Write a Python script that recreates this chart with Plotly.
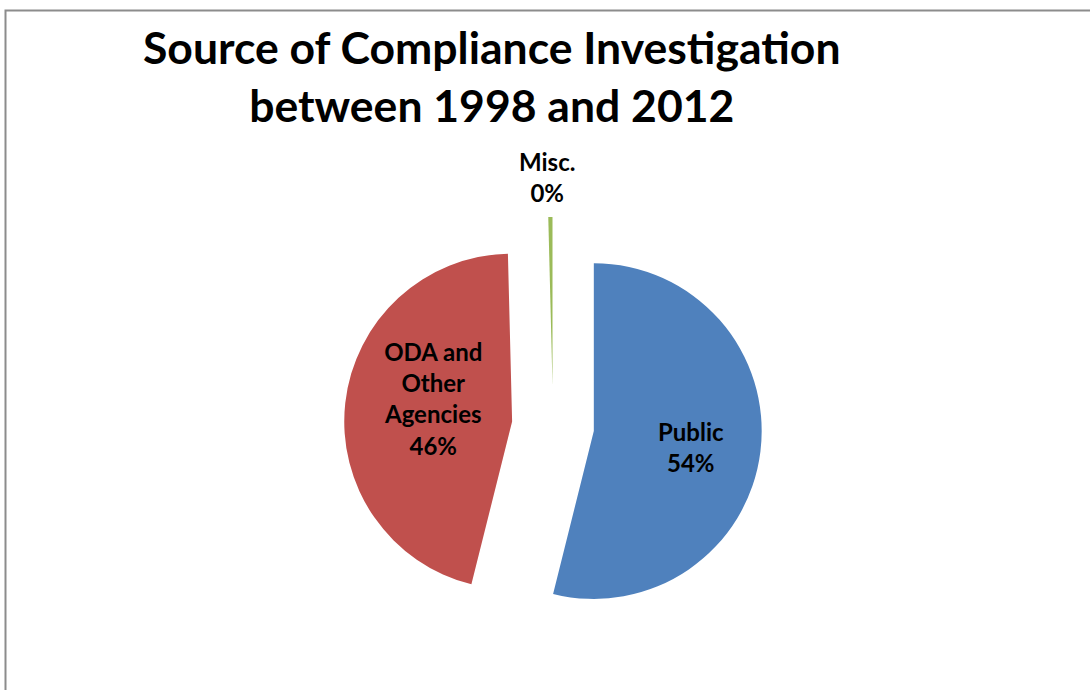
import plotly.graph_objects as go

# Sources of compliance investigations, 1998-2012 (share of cases, %)
sources = ["Public", "ODA and<br>Other<br>Agencies", "Misc."]
shares = [53.9, 45.7, 0.4]
colors = ["#4F81BD", "#C0504D", "#9BBB59"]

# where each slice's data label sits (paper pixels from top-left)
label_px = [(691, 447), (433, 398), (547, 177)]

W, H = 1090, 690
FONT = "Lato"

fig = go.Figure(
    go.Pie(
        labels=sources,
        values=shares,
        sort=False,
        direction="clockwise",
        rotation=0,
        pull=[0.245, 0.245, 0.245],
        marker=dict(colors=colors, line=dict(width=0)),
        textinfo="none",
        showlegend=False,
        hoverinfo="label+percent",
        domain=dict(x=[344 / W, 762 / W], y=[1 - 635 / H, 1 - 217 / H]),
    )
)

# data labels: category name and rounded share
total = sum(shares)
for name, value, (px, py) in zip(sources, shares, label_px):
    pct = round(100 * value / total)
    fig.add_annotation(
        text=f"<b>{name}<br>{pct}%</b>",
        x=px / W, y=1 - py / H, xref="paper", yref="paper",
        xanchor="center", yanchor="middle", showarrow=False,
        font=dict(family=FONT, size=24, color="black"),
    )

fig.add_annotation(
    text="<b>Source of Compliance Investigation<br>between 1998 and 2012</b>",
    x=492 / W, y=1 - 76 / H, xref="paper", yref="paper",
    xanchor="center", yanchor="middle", showarrow=False,
    font=dict(family=FONT, size=44.5, color="black"),
)

# chart-area frame
fig.add_shape(
    type="rect", xref="paper", yref="paper",
    x0=5.5 / W, x1=1.02, y0=-0.02, y1=1 - 10.5 / H,
    line=dict(color="#8C8C8C", width=2), fillcolor="rgba(0,0,0,0)",
)

fig.update_layout(
    width=W, height=H,
    margin=dict(l=0, r=0, t=0, b=0),
    paper_bgcolor="white",
    plot_bgcolor="white",
)

fig.write_html("out.html")
